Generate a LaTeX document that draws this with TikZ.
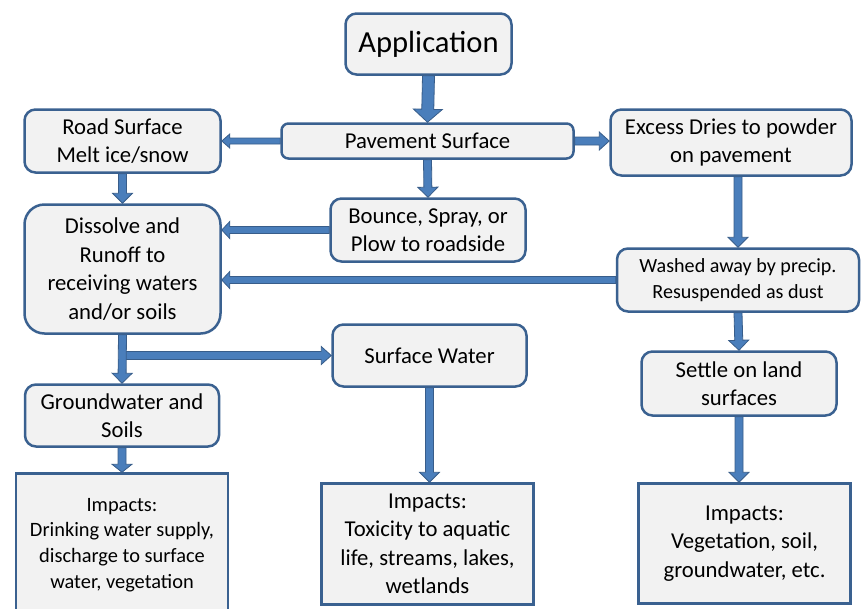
\documentclass[tikz,border=0pt]{standalone}
\usepackage{fontspec}
\setmainfont{Carlito}
\definecolor{boxline}{HTML}{3A6190}
\definecolor{boxfill}{HTML}{F2F2F2}
\definecolor{flowfill}{HTML}{4A7EBB}
\definecolor{flowline}{HTML}{385D8A}
\usetikzlibrary{calc}

\begin{document}
\begin{tikzpicture}[x=1pt, y=-1pt]
  \tikzset{
    stage/.style={draw=boxline, fill=boxfill, line width=2.5pt, rounded corners=11pt,
      inner sep=0pt, align=center, font=\fontsize{22.7}{28.5}\selectfont},
    impact/.style={stage, sharp corners},
    flow shaft/.initial=4pt, flow head/.initial=10pt, flow tip/.initial=10pt,
    flow/.style={draw=flowline, fill=flowfill, line width=0.8pt, sharp corners,
      to path={
        ($(\tikztostart)!\pgfkeysvalueof{/tikz/flow shaft}!90:(\tikztotarget)$)
        -- ($(\tikztotarget)!\pgfkeysvalueof{/tikz/flow tip}!(\tikztostart)!\pgfkeysvalueof{/tikz/flow shaft}!90:(\tikztotarget)$)
        -- ($(\tikztotarget)!\pgfkeysvalueof{/tikz/flow tip}!(\tikztostart)!\pgfkeysvalueof{/tikz/flow head}!90:(\tikztotarget)$)
        -- (\tikztotarget)
        -- ($(\tikztotarget)!\pgfkeysvalueof{/tikz/flow tip}!(\tikztostart)!\pgfkeysvalueof{/tikz/flow head}!-90:(\tikztotarget)$)
        -- ($(\tikztotarget)!\pgfkeysvalueof{/tikz/flow tip}!(\tikztostart)!\pgfkeysvalueof{/tikz/flow shaft}!-90:(\tikztotarget)$)
        -- ($(\tikztostart)!\pgfkeysvalueof{/tikz/flow shaft}!-90:(\tikztotarget)$)
        -- cycle}},
    small flow/.style={flow, flow shaft=3pt, flow head=7pt, flow tip=8pt}
  }
  \useasboundingbox (0,0) rectangle (861,608);

  % top row
  \node[stage, minimum width=166pt, minimum height=61pt, font=\fontsize{30.6}{36}\selectfont] (app) at (428.5,44) {Application};
  \node[stage, rounded corners=7pt, minimum width=292pt, minimum height=35pt] (pave) at (427.5,141) {Pavement Surface};
  \node[stage, minimum width=196pt, minimum height=63pt] (road) at (122.5,141) {Road Surface\\Melt ice/snow};
  \node[stage, minimum width=241pt, minimum height=66pt] (dry) at (731,142.5) {Excess Dries to powder\\on pavement};

  % middle
  \node[stage, minimum width=195pt, minimum height=63pt] (bounce) at (428,230) {Bounce, Spray, or\\Plow to roadside};
  \node[stage, rounded corners=20pt, minimum width=196pt, minimum height=129pt] (runoff) at (122.5,269) {Dissolve and\\Runoff to\\receiving waters\\and/or soils};
  \node[stage, minimum width=242pt, minimum height=63pt, font=\fontsize{20.1}{26}\selectfont] (wash) at (738,280) {Washed away by precip.\\Resuspended as dust};
  \node[stage, minimum width=194pt, minimum height=62pt] (surf) at (429.5,355.5) {Surface Water};
  \node[stage, minimum width=194pt, minimum height=62pt] (ground) at (122,415.5) {Groundwater and\\Soils};
  \node[stage, minimum width=195pt, minimum height=64pt] (settle) at (739,383.5) {Settle on land\\surfaces};

  % impacts
  \node[impact, minimum width=212pt, minimum height=143pt, font=\fontsize{20.4}{25.7}\selectfont] (impgw) at (122,545) {Impacts:\\Drinking water supply,\\discharge to surface\\water, vegetation};
  \node[impact, minimum width=212pt, minimum height=121pt] (impsw) at (427.5,544) {Impacts:\\Toxicity to aquatic\\life, streams, lakes,\\wetlands};
  \node[impact, minimum width=212pt, minimum height=120pt] (impland) at (744.5,543.5) {Impacts:\\Vegetation, soil,\\groundwater, etc.};

  % arrows
  \draw[flow, flow shaft=6pt, flow head=14.5pt, flow tip=13pt] (app.south) to (pave.north);
  \draw[small flow] (pave.west) to (pave.west -| road.east);
  \draw[flow, flow head=9pt] (pave.east) to (pave.east -| dry.west);
  \draw[flow] (pave.south) to (bounce.north);
  \draw[flow] (road.south) to (runoff.north);
  \draw[flow, flow shaft=3.5pt, flow head=8.5pt, flow tip=8pt] (bounce.west) to (bounce.west -| runoff.east);
  \draw[flow, flow shaft=3.5pt, flow head=8.5pt, flow tip=8pt] (wash.west) to (wash.west -| runoff.east);
  \draw[flow] (wash.north |- dry.south) to (wash.north);
  \draw[flow] (wash.south) to (settle.north);
  \draw[flow] (settle.south) to (settle.south |- impland.north);
  \coordinate (split) at (runoff.south |- surf.west);
  \draw[flow, flow head=9pt] (split) to (surf.west);
  \draw[flow] (runoff.south) to (ground.north);
  \draw[flow] (surf.south) to (surf.south |- impsw.north);
  \draw[flow, flow tip=8pt] (ground.south) to (impgw.north);
\end{tikzpicture}
\end{document}
